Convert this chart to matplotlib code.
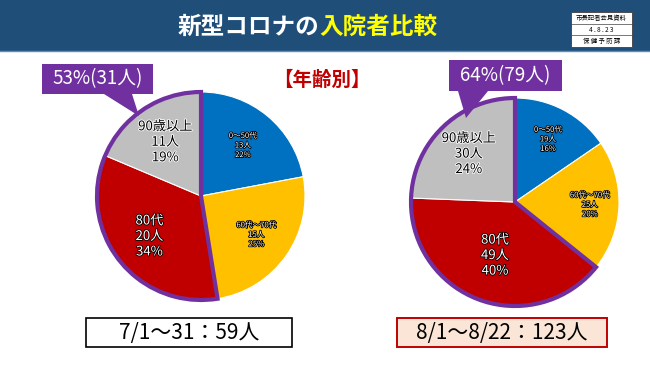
import matplotlib
matplotlib.use("Agg")
import matplotlib.pyplot as plt
import matplotlib.patheffects as pe
from matplotlib.patches import Rectangle, Polygon, Wedge
import numpy as np

plt.rcParams['font.family'] = ['Noto Sans CJK JP', 'DejaVu Sans']

# データ
groups = ["0～50代", "60代～70代", "80代", "90歳以上"]
july_counts = [13, 15, 20, 11]
july_pct = ["22%", "25%", "34%", "19%"]
aug_counts = [19, 25, 49, 30]
aug_pct = ["16%", "20%", "40%", "24%"]
july_callout = "53%(31人)"
aug_callout = "64%(79人)"
july_total = "7/1～31：59人"
aug_total = "8/1～8/22：123人"

colors = ["#0070C0", "#FFC000", "#C00000", "#BFBFBF"]
purple = "#7030A0"

W, H = 650, 365
fig = plt.figure(figsize=(W / 100, H / 100), dpi=100)

# 背景用のピクセル座標の軸
bg = fig.add_axes([0, 0, 1, 1], zorder=0)
bg.set_xlim(0, W)
bg.set_ylim(H, 0)
bg.axis("off")

# ヘッダー
bg.add_patch(Rectangle((0, 0), W, 51, facecolor="#1F4E79", edgecolor="none"))
bg.plot([0, W], [51, 51], color="#5B8DBE", lw=1)
bg.text(319, 27, "新型コロナの", color="white", fontsize=17, fontweight="bold",
        ha="right", va="center")
bg.text(319, 27, "入院者比較", color="#FFFF00", fontsize=17, fontweight="bold",
        ha="left", va="center")

# 右上の資料ボックス
bx, by, bw, bh = 571, 12, 61, 35
bg.add_patch(Rectangle((bx, by), bw, bh, facecolor="white", edgecolor="#404040", lw=0.6))
for k in (1, 2):
    bg.plot([bx, bx + bw], [by + k * bh / 3] * 2, color="#404040", lw=0.5)
for k, s in enumerate(["市長記者会見資料", "4 . 8 . 2 3", "保 健 予 防 課"]):
    bg.text(bx + bw / 2, by + (k + 0.5) * bh / 3, s, fontsize=4.6, ha="center",
            va="center", color="black")

bg.text(322, 80, "【年齢別】", color="#C00000", fontsize=14, fontweight="bold",
        ha="center", va="center")


def draw_pie(cx, cy, r, counts, pcts, lab_r, big_fs, small_fs):
    size = 2.5 * r
    ax = fig.add_axes([(cx - size / 2) / W, (H - cy - size / 2) / H, size / W, size / H],
                      zorder=2)
    wedges, _ = ax.pie(counts, colors=colors, startangle=90, counterclock=False,
                       wedgeprops=dict(edgecolor="white", linewidth=0.8))
    ax.set_xlim(-1.25, 1.25)
    ax.set_ylim(-1.25, 1.25)
    ax.set_aspect("equal")
    ax.axis("off")
    frac = np.array(counts) / sum(counts)
    start = 90 - 360 * np.concatenate([[0], np.cumsum(frac)])
    # 80代以上の外枠
    ax.add_patch(Wedge((0, 0), 1.0, start[-1], start[2], fill=False,
                       edgecolor=purple, linewidth=3, joinstyle="miter"))
    for i in range(4):
        mid = np.deg2rad((start[i] + start[i + 1]) / 2)
        x, y = lab_r[i] * np.cos(mid), lab_r[i] * np.sin(mid)
        s = "%s\n%d人\n%s" % (groups[i], counts[i], pcts[i])
        if i == 3:
            ax.text(x, y, s, ha="center", va="center", fontsize=big_fs,
                    color="black", linespacing=1.25,
                    path_effects=[pe.withStroke(linewidth=1.2, foreground="white")])
        else:
            fs = big_fs if i == 2 else small_fs
            ax.text(x, y, s, ha="center", va="center", fontsize=fs,
                    color="white", linespacing=1.25,
                    path_effects=[pe.withStroke(linewidth=1.2, foreground="black")])


draw_pie(201, 196, 104, july_counts, july_pct, [0.63, 0.65, 0.63, 0.62], 9.5, 5.5)
draw_pie(515, 202, 104, aug_counts, aug_pct, [0.68, 0.72, 0.55, 0.64], 9.5, 5.5)

# 前面用の軸（吹き出し・合計ボックス）
fg = fig.add_axes([0, 0, 1, 1], zorder=5)
fg.set_xlim(0, W)
fg.set_ylim(H, 0)
fg.axis("off")
fg.patch.set_alpha(0)


def callout(x0, y0, x1, y1, b0, b1, tip, text):
    pts = [(x0, y0), (x1, y0), (x1, y1), (b1, y1), tip, (b0, y1), (x0, y1)]
    fg.add_patch(Polygon(pts, closed=True, facecolor=purple, edgecolor="none"))
    fg.text((x0 + x1) / 2, (y0 + y1) / 2, text, color="white", fontsize=13.5,
            ha="center", va="center")


callout(42, 64, 153, 94, 104, 132, (139, 116), july_callout)
callout(449, 60, 562, 91, 458, 488, (466, 118), aug_callout)

fg.add_patch(Rectangle((86, 318), 206, 29, facecolor="white", edgecolor="black", lw=1.2))
fg.text(189, 333, july_total, fontsize=15, ha="center", va="center", color="black")
fg.add_patch(Rectangle((397, 318), 210, 29, facecolor="#FBE5D6", edgecolor="#C00000", lw=1.4))
fg.text(502, 333, aug_total, fontsize=15, ha="center", va="center", color="black")

fig.savefig("out.png", dpi=100)
